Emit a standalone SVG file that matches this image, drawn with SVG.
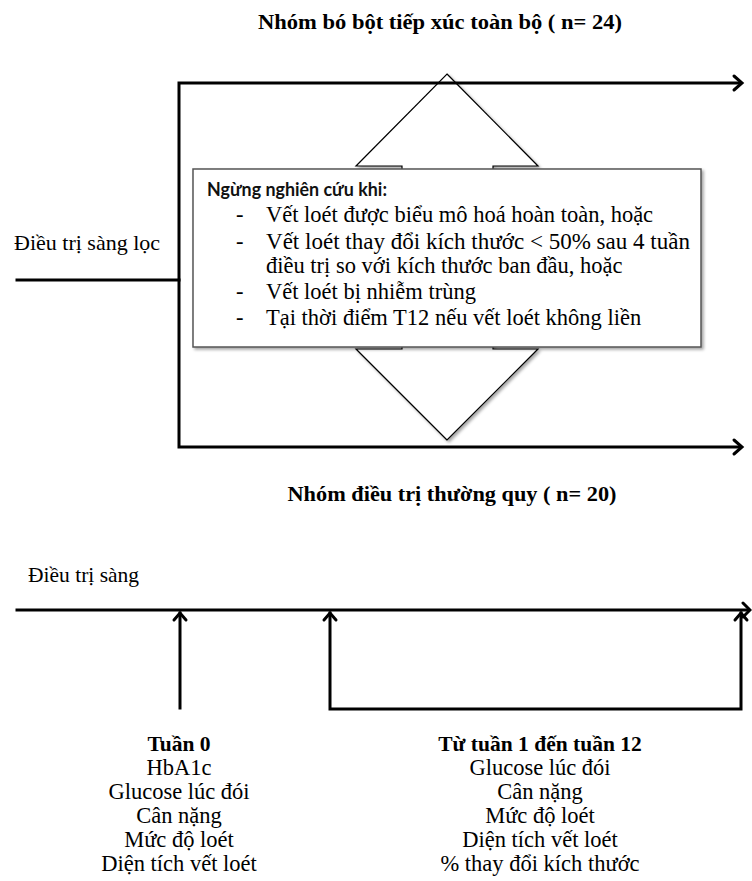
<svg xmlns="http://www.w3.org/2000/svg" width="752" height="881" viewBox="0 0 752 881">
<style>
.t{font-family:"Liberation Serif","Times New Roman",serif;fill:#000}
.b{font-weight:bold}
.thick{stroke:#000;stroke-width:3;fill:none;stroke-linecap:square}
.blk{fill:#fff;stroke:#000;stroke-width:1.2}
.ah{stroke:#000;stroke-width:3;fill:none;stroke-linecap:round;stroke-linejoin:miter}
</style>
<defs>
<filter id="sh" x="-5%" y="-5%" width="115%" height="120%">
<feDropShadow dx="2" dy="2" stdDeviation="1.5" flood-color="#000" flood-opacity="0.35"/>
</filter>
</defs>
<rect width="752" height="881" fill="#fff"/>

<text class="t b" x="440" y="29" font-size="22" text-anchor="middle" textLength="364" lengthAdjust="spacingAndGlyphs">Nhóm bó bột tiếp xúc toàn bộ ( n= 24)</text>

<g id="arrow-up">
<polygon class="blk" filter="url(#sh)" points="447,74 538,166 493,166 493,300 402,300 402,166 356,166"/>
</g>
<g id="arrow-down">
<polygon class="blk" filter="url(#sh)" points="447,440 356,349 402,349 402,250 493,250 493,349 538,349"/>
</g>

<g id="stop-box">
<rect x="193" y="169" width="508" height="178" fill="#fff" stroke="#555" stroke-width="1.5" filter="url(#sh)"/>
<text x="207" y="196" font-family="Lato,'Liberation Sans',sans-serif" font-weight="bold" font-size="19.5" fill="#111" textLength="180" lengthAdjust="spacingAndGlyphs">Ngừng nghiên cứu khi:</text>
<g class="t" font-size="22.5">
<text x="236" y="222">-</text><text x="266" y="222">Vết loét được biểu mô hoá hoàn toàn, hoặc</text>
<text x="236" y="249">-</text><text x="266" y="249" textLength="424" lengthAdjust="spacingAndGlyphs">Vết loét thay đổi kích thước &lt; 50% sau 4 tuần</text>
<text x="266" y="273">điều trị so với kích thước ban đầu, hoặc</text>
<text x="236" y="299">-</text><text x="266" y="299">Vết loét bị nhiễm trùng</text>
<text x="236" y="325">-</text><text x="266" y="325">Tại thời điểm T12 nếu vết loét không liền</text>
</g>
</g>

<g id="screening-top">
<text class="t" x="14" y="250" font-size="22">Điều trị sàng lọc</text>
</g>

<g id="connectors">
<path class="thick" d="M17,280 H179"/>
<path class="thick" d="M740,83 H179 V447 H740"/>
<path class="ah" d="M734,76 L742,83 L734,90"/>
<path class="ah" d="M734,440 L742,447 L734,454"/>

<path class="thick" d="M17,610 H748"/>
<path class="ah" d="M743,603 L750,610 L743,617"/>
<path class="thick" d="M180,708 V613"/>
<path class="ah" d="M174,620 L180,613 L186,620"/>
<path class="thick" d="M330,613 V709 H741 V613" stroke-linejoin="miter"/>
<path class="ah" d="M324,620 L330,613 L336,620"/>
<path class="ah" d="M735,620 L741,613 L747,620"/>
</g>

<text class="t b" x="452" y="501" font-size="22" text-anchor="middle" textLength="329" lengthAdjust="spacingAndGlyphs">Nhóm điều trị thường quy ( n= 20)</text>

<g id="screening-bottom">
<text class="t" x="28" y="582" font-size="21.5">Điều trị sàng</text>
</g>

<g id="week0" class="t" font-size="22.5" text-anchor="middle">
<text class="b" x="179" y="751" font-size="21.5">Tuần 0</text>
<text x="179" y="775">HbA1c</text>
<text x="179" y="799">Glucose lúc đói</text>
<text x="179" y="823">Cân nặng</text>
<text x="179" y="847">Mức độ loét</text>
<text x="179" y="871">Diện tích vết loét</text>
</g>

<g id="week1-12" class="t" font-size="22.5" text-anchor="middle">
<text class="b" x="540" y="751" font-size="21.5">Từ tuần 1 đến tuần 12</text>
<text x="540" y="775">Glucose lúc đói</text>
<text x="540" y="799">Cân nặng</text>
<text x="540" y="823">Mức độ loét</text>
<text x="540" y="847">Diện tích vết loét</text>
<text x="540" y="871">% thay đổi kích thước</text>
</g>
</svg>
